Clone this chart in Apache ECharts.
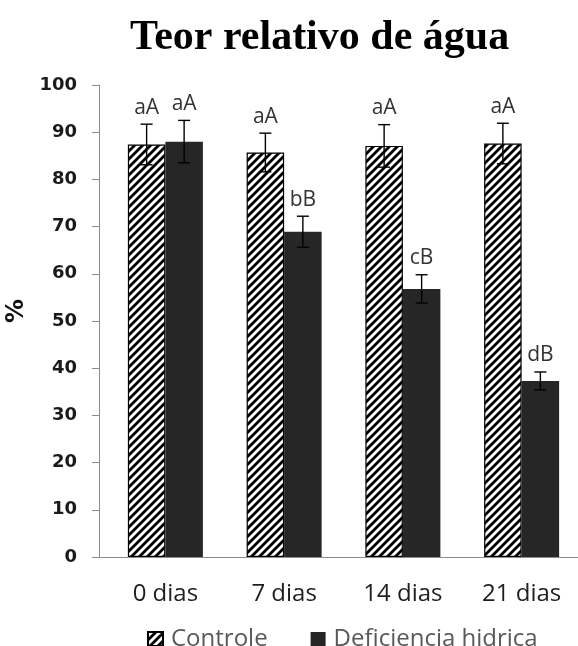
<!DOCTYPE html>
<html>
<head>
<meta charset="utf-8">
<script src="https://cdn.jsdelivr.net/npm/echarts@6/dist/echarts.min.js"></script>
<style>
html,body{margin:0;padding:0;background:#fff;}
#chart{width:578px;height:646px;}
</style>
</head>
<body>
<div id="chart"></div>
<script>
// ---- data ----
var categories = ['0 dias', '7 dias', '14 dias', '21 dias'];
var controle = [87.4, 85.7, 87.1, 87.6];
var controleErr = [4.3, 4.1, 4.5, 4.3];
var deficiencia = [88.0, 68.9, 56.8, 37.3];
var deficienciaErr = [4.5, 3.3, 3.0, 1.9];
var controleLetters = ['aA', 'aA', 'aA', 'aA'];
var deficienciaLetters = ['aA', 'bB', 'cB', 'dB'];
var yTicks = [0, 10, 20, 30, 40, 50, 60, 70, 80, 90, 100];

// ---- hatch pattern ----
function makeHatch() {
  var c = document.createElement('canvas');
  c.width = 8; c.height = 8;
  var ctx = c.getContext('2d');
  ctx.fillStyle = '#fff';
  ctx.fillRect(0, 0, 8, 8);
  ctx.strokeStyle = '#000';
  ctx.lineWidth = 2.8;
  ctx.beginPath();
  ctx.moveTo(-2, 10); ctx.lineTo(10, -2);
  ctx.moveTo(-6, 6); ctx.lineTo(6, -6);
  ctx.moveTo(2, 14); ctx.lineTo(14, 2);
  ctx.stroke();
  return c;
}
var hatch = makeHatch();

var BAR_W = 37.5;
var DARK = '#262626';

function errSeries(name, values, errs, letters, side) {
  return {
    type: 'custom',
    name: name + ' err',
    z: 10,
    silent: true,
    clip: false,
    legendHoverLink: false,
    data: values.map(function (v, i) { return [i, v, errs[i]]; }),
    renderItem: function (params, api) {
      var i = api.value(0), v = api.value(1), e = api.value(2);
      var letter = letters[params.dataIndex];
      var top = api.coord([i, v + e]);
      var bot = api.coord([i, v - e]);
      var x = top[0] + side * BAR_W / 2;
      var cap = 6;
      var ls = { stroke: '#000', lineWidth: 1.4 };
      return {
        type: 'group',
        children: [
          { type: 'line', shape: { x1: x, y1: top[1], x2: x, y2: bot[1] }, style: ls },
          { type: 'line', shape: { x1: x - cap, y1: top[1], x2: x + cap, y2: top[1] }, style: ls },
          { type: 'line', shape: { x1: x - cap, y1: bot[1], x2: x + cap, y2: bot[1] }, style: ls },
          { type: 'text', style: {
              text: letter, x: x, y: top[1] - 6,
              align: 'center', verticalAlign: 'bottom',
              fontFamily: 'Open Sans', fontSize: 21, fill: '#333'
            } }
        ]
      };
    }
  };
}

var chart = echarts.init(document.getElementById('chart'), null, { renderer: 'canvas' });
chart.setOption({
  animation: false,
  backgroundColor: '#fff',
  title: {
    text: 'Teor relativo de água',
    left: 125, top: 12,
    textStyle: { fontFamily: 'Liberation Serif', fontWeight: 'bold', fontSize: 42, color: '#000' }
  },
  legend: {
    data: ['Controle', 'Deficiencia hidrica'],
    left: 142, top: 622,
    icon: 'rect',
    itemWidth: 15, itemHeight: 14, itemGap: 43,
    textStyle: { fontFamily: 'Open Sans', fontSize: 24, color: '#595959', padding: [0, 0, 0, 3] }
  },
  grid: { left: 106, top: 85, width: 475, height: 472, outerBoundsMode: 'none', containLabel: false },
  xAxis: {
    type: 'category',
    data: categories,
    axisLine: { lineStyle: { color: '#8c8c8c', width: 1 } },
    axisTick: { show: false },
    axisLabel: { fontFamily: 'Open Sans', fontSize: 24, color: '#1e1e1e', margin: 25 }
  },
  yAxis: {
    type: 'value',
    min: 0, max: 100, interval: 10,
    offset: 7,
    name: '%',
    nameLocation: 'middle',
    nameRotate: 90,
    nameGap: 70,
    nameTextStyle: { fontFamily: 'DejaVu Sans', fontWeight: 'bold', fontSize: 24, color: '#111', padding: [0, 0, 0, 20] },
    axisLine: { show: true, lineStyle: { color: '#8c8c8c', width: 1 } },
    axisTick: { show: true, inside: false, length: 7, lineStyle: { color: '#8c8c8c' } },
    axisLabel: {
      fontFamily: 'DejaVu Sans', fontWeight: 'bold', fontSize: 18, color: '#1a1a1a', margin: 22,
      formatter: function (v) { return yTicks.indexOf(v) >= 0 ? String(v) : ''; }
    },
    splitLine: { show: false }
  },
  graphic: [{
    type: 'line', silent: true,
    shape: { x1: 99, y1: 557.5, x2: 106, y2: 557.5 },
    style: { stroke: '#8c8c8c', lineWidth: 1 }
  }],
  series: [
    {
      name: 'Controle', type: 'bar', data: controle,
      barWidth: BAR_W, barGap: '0%',
      itemStyle: { color: { image: hatch, repeat: 'repeat' }, borderColor: '#000', borderWidth: 1.2 }
    },
    {
      name: 'Deficiencia hidrica', type: 'bar', data: deficiencia,
      barWidth: BAR_W, barGap: '0%',
      itemStyle: { color: DARK }
    },
    errSeries('Controle', controle, controleErr, controleLetters, -1),
    errSeries('Deficiencia hidrica', deficiencia, deficienciaErr, deficienciaLetters, 1)
  ]
});
</script>
</body>
</html>
